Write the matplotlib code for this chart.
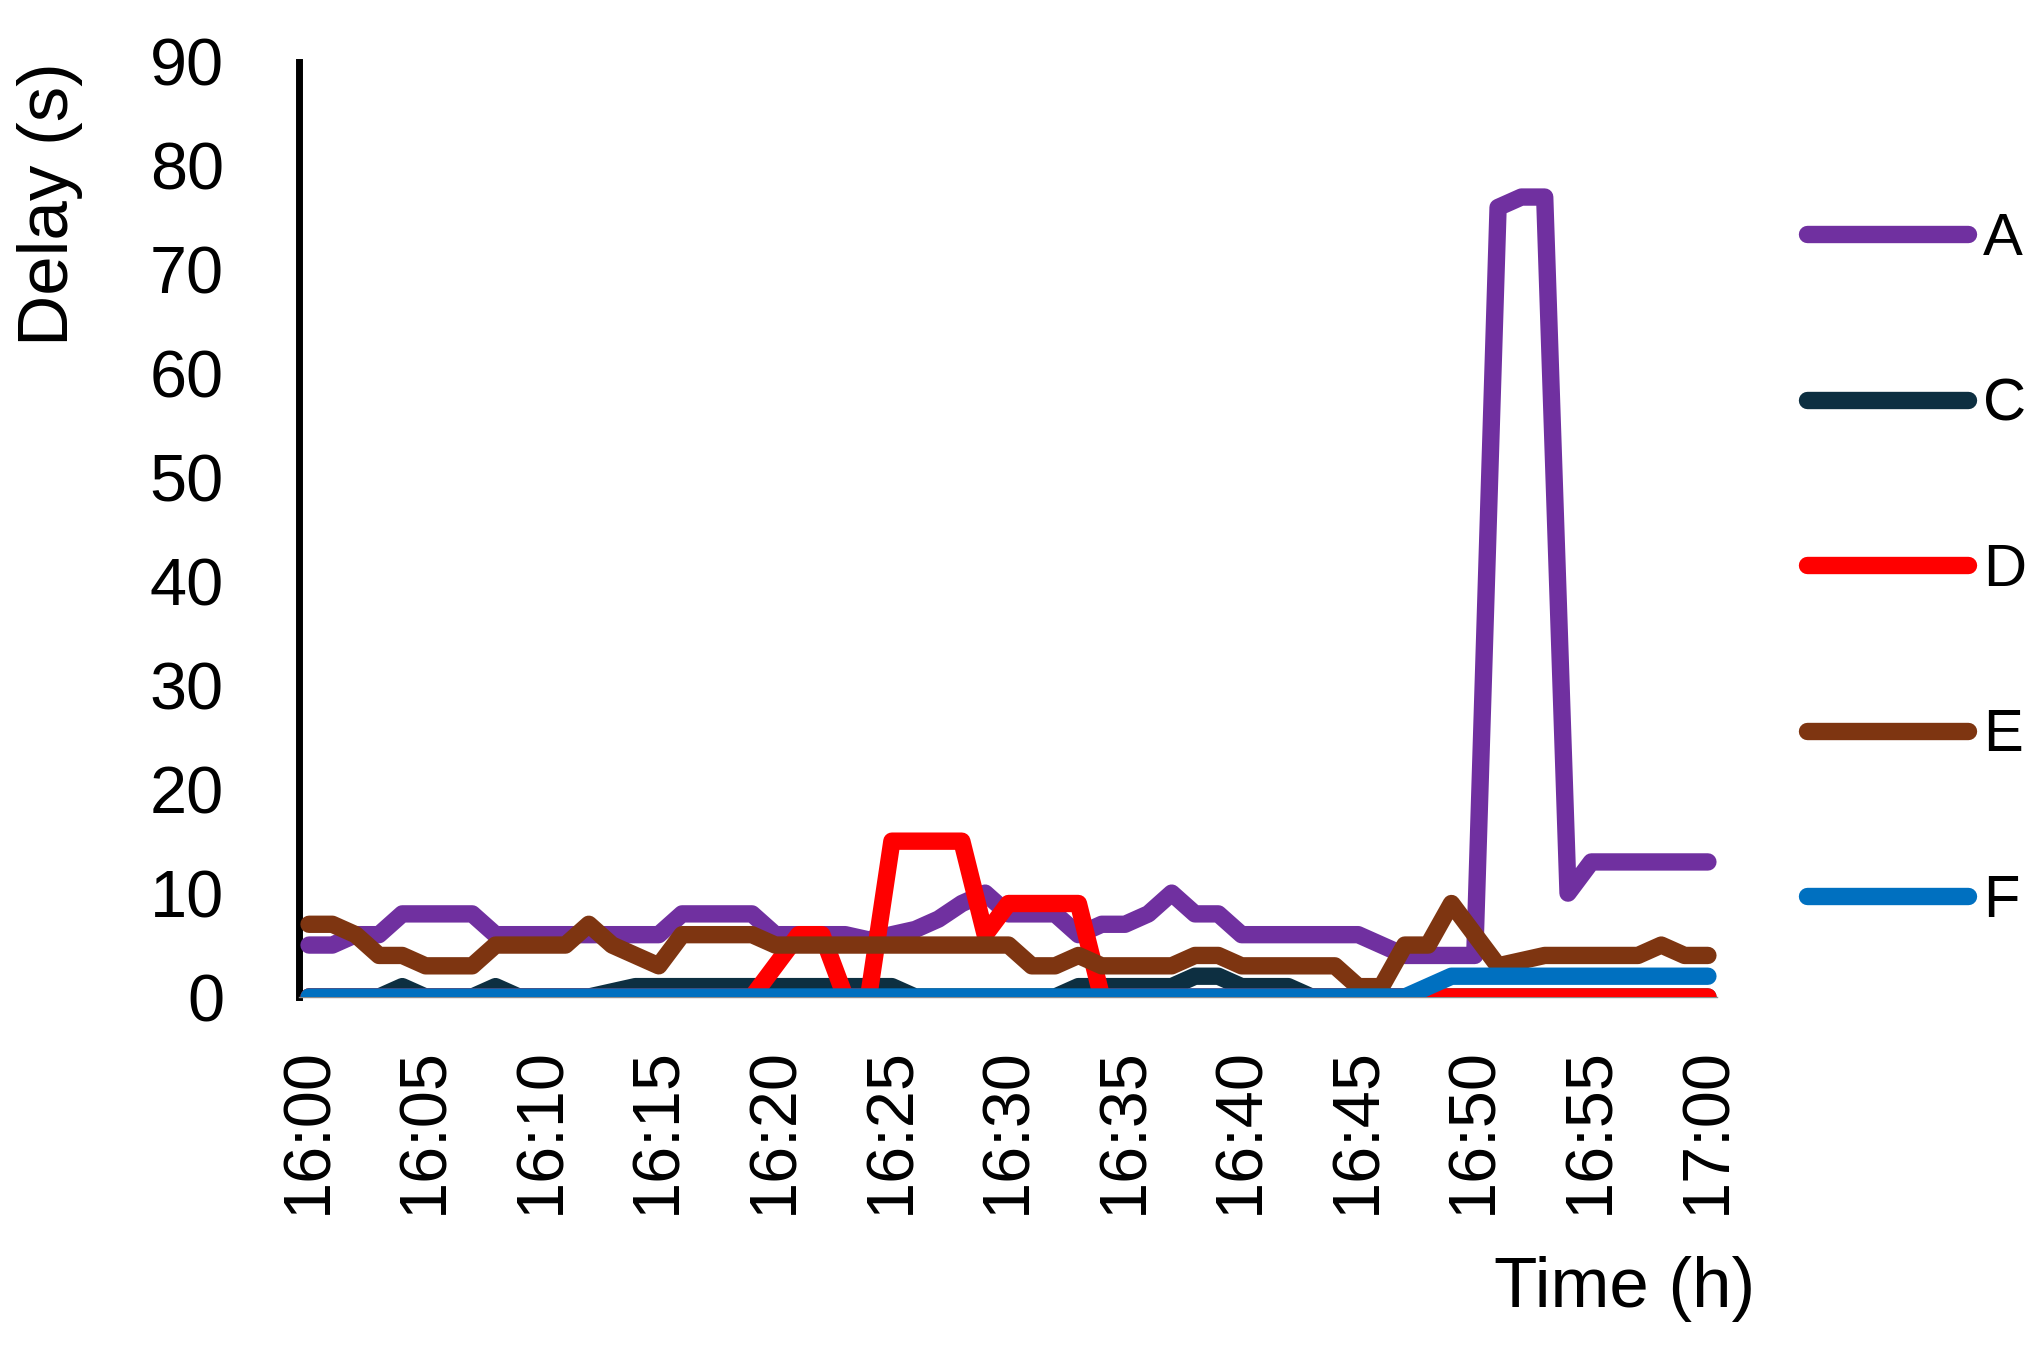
import matplotlib
matplotlib.use('Agg')
import matplotlib.pyplot as plt

plt.rcParams['font.family'] = ['Liberation Sans', 'DejaVu Sans']

# ---- data ----
minutes = list(range(61))  # minutes after 16:00
tick_positions = list(range(0, 61, 5))
tick_labels = ['16:00', '16:05', '16:10', '16:15', '16:20', '16:25', '16:30',
               '16:35', '16:40', '16:45', '16:50', '16:55', '17:00']
y_ticks = [0, 10, 20, 30, 40, 50, 60, 70, 80, 90]

series_names = ['A', 'C', 'D', 'E', 'F']

A = [5, 5, 6, 6, 8, 8, 8, 8, 6, 6,
     6, 6, 6, 6, 6, 6, 8, 8, 8, 8,
     6, 6, 6, 6, 5.5, 6, 6.5, 7.5, 9, 10,
     8, 8, 8, 6, 7, 7, 8, 10, 8, 8,
     6, 6, 6, 6, 6, 6, 5, 4, 4, 4,
     4, 76, 77, 77, 10, 13, 13, 13, 13, 13,
     13]
C = [0, 0, 0, 0, 1, 0, 0, 0, 1, 0,
     0, 0, 0, 0.5, 1, 1, 1, 1, 1, 1,
     1, 1, 1, 1, 1, 1, 0, 0, 0, 0,
     0, 0, 0, 1, 1, 1, 1, 1, 2, 2,
     1, 1, 1, 0, 0, 0, 0, 0, 0, 0,
     0, 0, 0, 0, 0, 0, 0, 0, 0, 0,
     0]
D = [0, 0, 0, 0, 0, 0, 0, 0, 0, 0,
     0, 0, 0, 0, 0, 0, 0, 0, 0, 0,
     3, 6, 6, 0, 0, 15, 15, 15, 15, 6,
     9, 9, 9, 9, 0, 0, 0, 0, 0, 0,
     0, 0, 0, 0, 0, 0, 0, 0, 0, 0,
     0, 0, 0, 0, 0, 0, 0, 0, 0, 0,
     0]
E = [7, 7, 6, 4, 4, 3, 3, 3, 5, 5,
     5, 5, 7, 5, 4, 3, 6, 6, 6, 6,
     5, 5, 5, 5, 5, 5, 5, 5, 5, 5,
     5, 3, 3, 4, 3, 3, 3, 3, 4, 4,
     3, 3, 3, 3, 3, 1, 1, 5, 5, 9,
     6, 3, 3.5, 4, 4, 4, 4, 4, 5, 4,
     4]
F = [0, 0, 0, 0, 0, 0, 0, 0, 0, 0,
     0, 0, 0, 0, 0, 0, 0, 0, 0, 0,
     0, 0, 0, 0, 0, 0, 0, 0, 0, 0,
     0, 0, 0, 0, 0, 0, 0, 0, 0, 0,
     0, 0, 0, 0, 0, 0, 0, 0, 1, 2,
     2, 2, 2, 2, 2, 2, 2, 2, 2, 2,
     2]

series_values = [A, C, D, E, F]
colors = ['#7030A0', '#0D2F41', '#FF0000', '#7E3511', '#0070C0']

# ---- figure ----
W, H = 2042, 1351
fig = plt.figure(figsize=(W / 100, H / 100), dpi=100)
ax = fig.add_axes([299 / W, (H - 997) / H, (1717 - 299) / W, (997 - 62) / H])

lines = []
for name, vals, col in zip(series_names, series_values, colors):
    ln, = ax.plot(minutes, vals, color=col, linewidth=12.5, label=name,
                  solid_capstyle='round', solid_joinstyle='round', zorder=3)
    lines.append(ln)

ax.set_xlim(-0.43, 60.39)
ax.set_ylim(0, 90)
ax.set_xticks(tick_positions)
ax.set_xticklabels(tick_labels, rotation=90, fontsize=48)
ax.set_yticks(y_ticks)
ax.set_yticklabels([str(v) for v in y_ticks], fontsize=48)
ax.tick_params(axis='both', length=0)
ax.tick_params(axis='x', pad=36)
ax.tick_params(axis='y', pad=54)

for s in ['top', 'right']:
    ax.spines[s].set_visible(False)
ax.spines['left'].set_color('black')
ax.spines['left'].set_linewidth(5)
ax.spines['left'].set_zorder(2.5)
ax.spines['bottom'].set_color('#8C8C8C')
ax.spines['bottom'].set_linewidth(1)
ax.spines['bottom'].set_zorder(2.5)

fig.text(50 / W, 1 - 204 / H, 'Delay (s)', rotation=90, ha='center', va='center', fontsize=51)
fig.text(1755 / W, (H - 1307) / H, 'Time (h)', ha='right', va='baseline', fontsize=51)

leg = fig.legend(handles=lines, labels=series_names, loc='upper left',
                 bbox_to_anchor=(1807 / W, 1 - 212 / H), frameon=False,
                 fontsize=43, handlelength=2.7, handletextpad=0.25,
                 labelspacing=1.85, borderpad=0, borderaxespad=0)

fig.savefig('out.png', dpi=100)
